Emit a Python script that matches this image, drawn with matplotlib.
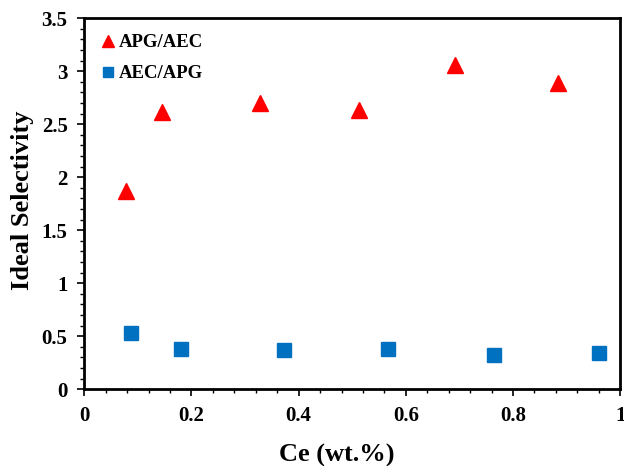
import matplotlib
matplotlib.use("Agg")
import matplotlib.pyplot as plt
from matplotlib.ticker import MultipleLocator

# Ідеальна селективність залежно від вмісту Ce
ce_apg = [0.077, 0.146, 0.328, 0.513, 0.692, 0.884]
apg_aec = [1.87, 2.61, 2.70, 2.63, 3.06, 2.89]

ce_aec = [0.088, 0.181, 0.373, 0.567, 0.765, 0.960]
aec_apg = [0.53, 0.38, 0.37, 0.38, 0.32, 0.34]

plt.rcParams['font.family'] = ['Liberation Serif', 'DejaVu Serif']
plt.rcParams['font.weight'] = 'bold'

fig = plt.figure(figsize=(6.24, 4.66), dpi=100)
ax = fig.add_axes([0.135, 0.165, 0.859, 0.796])

ax.plot(ce_apg, apg_aec, linestyle='none', marker='^', markersize=12,
        color='#FF0000', label='APG/AEC')
ax.plot(ce_aec, aec_apg, linestyle='none', marker='s', markersize=10.5,
        color='#0070C0', label='AEC/APG')

ax.set_xlim(0, 1)
ax.set_ylim(0, 3.5)
ax.xaxis.set_major_locator(MultipleLocator(0.2))
ax.xaxis.set_minor_locator(MultipleLocator(0.04))
ax.yaxis.set_major_locator(MultipleLocator(0.5))
ax.yaxis.set_minor_locator(MultipleLocator(0.1))
ax.xaxis.set_major_formatter(lambda v, p: f"{v:g}")
ax.yaxis.set_major_formatter(lambda v, p: f"{v:g}")

ax.tick_params(which='major', direction='out', length=5, width=1.2, labelsize=15, pad=7)
ax.tick_params(which='minor', direction='out', length=3, width=1.0)
for s in ax.spines.values():
    s.set_linewidth(2)

ax.set_xlabel('Ce (wt.%)', fontsize=19, fontweight='bold')
ax.set_ylabel('Ideal Selectivity', fontsize=19, fontweight='bold')
ax.xaxis.set_label_coords(0.472, -0.148)
ax.yaxis.set_label_coords(-0.093, 0.51)

ax.legend(loc='upper left', frameon=False, fontsize=13.5, markerscale=0.75,
          handlelength=0.8, handletextpad=0.2, labelspacing=0.75,
          borderaxespad=0.45)

fig.savefig('out.png', dpi=100)
